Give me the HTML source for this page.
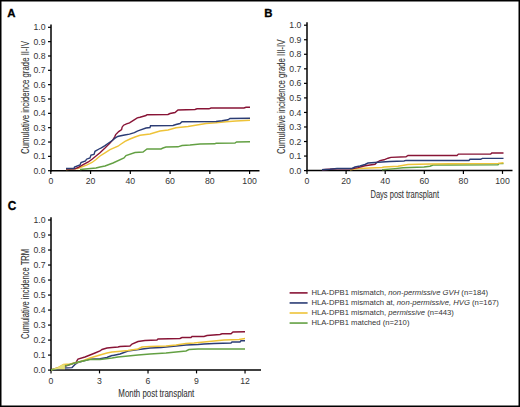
<!DOCTYPE html>
<html><head><meta charset="utf-8"><style>
html,body{margin:0;padding:0;background:#fff;}
#f{position:relative;width:520px;height:407px;overflow:hidden;background:#fff;}
svg{position:absolute;left:0;top:0;font-family:"Liberation Sans", sans-serif;}
</style></head><body><div id="f">
<svg width="520" height="407" viewBox="0 0 520 407">
<rect x="0" y="0" width="520" height="407" fill="#fff"/>
<line x1="51" y1="24.5" x2="51" y2="171.45" stroke="#000" stroke-width="1.5"/>
<line x1="50.25" y1="170.7" x2="259.5" y2="170.7" stroke="#000" stroke-width="1.5"/>
<line x1="48" y1="170.70" x2="51" y2="170.70" stroke="#000" stroke-width="1.2"/>
<text x="45.6" y="173.80" text-anchor="end" font-size="8.7" fill="#343434">0.0</text>
<line x1="48" y1="156.36" x2="51" y2="156.36" stroke="#000" stroke-width="1.2"/>
<text x="45.6" y="159.46" text-anchor="end" font-size="8.7" fill="#343434">0.1</text>
<line x1="48" y1="142.02" x2="51" y2="142.02" stroke="#000" stroke-width="1.2"/>
<text x="45.6" y="145.12" text-anchor="end" font-size="8.7" fill="#343434">0.2</text>
<line x1="48" y1="127.68" x2="51" y2="127.68" stroke="#000" stroke-width="1.2"/>
<text x="45.6" y="130.78" text-anchor="end" font-size="8.7" fill="#343434">0.3</text>
<line x1="48" y1="113.34" x2="51" y2="113.34" stroke="#000" stroke-width="1.2"/>
<text x="45.6" y="116.44" text-anchor="end" font-size="8.7" fill="#343434">0.4</text>
<line x1="48" y1="99.00" x2="51" y2="99.00" stroke="#000" stroke-width="1.2"/>
<text x="45.6" y="102.10" text-anchor="end" font-size="8.7" fill="#343434">0.5</text>
<line x1="48" y1="84.66" x2="51" y2="84.66" stroke="#000" stroke-width="1.2"/>
<text x="45.6" y="87.76" text-anchor="end" font-size="8.7" fill="#343434">0.6</text>
<line x1="48" y1="70.32" x2="51" y2="70.32" stroke="#000" stroke-width="1.2"/>
<text x="45.6" y="73.42" text-anchor="end" font-size="8.7" fill="#343434">0.7</text>
<line x1="48" y1="55.98" x2="51" y2="55.98" stroke="#000" stroke-width="1.2"/>
<text x="45.6" y="59.08" text-anchor="end" font-size="8.7" fill="#343434">0.8</text>
<line x1="48" y1="41.64" x2="51" y2="41.64" stroke="#000" stroke-width="1.2"/>
<text x="45.6" y="44.74" text-anchor="end" font-size="8.7" fill="#343434">0.9</text>
<line x1="48" y1="27.30" x2="51" y2="27.30" stroke="#000" stroke-width="1.2"/>
<text x="45.6" y="30.40" text-anchor="end" font-size="8.7" fill="#343434">1.0</text>
<line x1="50.80" y1="170.7" x2="50.80" y2="174.0" stroke="#000" stroke-width="1.2"/>
<text x="50.80" y="183.7" text-anchor="middle" font-size="8.7" fill="#343434">0</text>
<line x1="90.56" y1="170.7" x2="90.56" y2="174.0" stroke="#000" stroke-width="1.2"/>
<text x="90.56" y="183.7" text-anchor="middle" font-size="8.7" fill="#343434">20</text>
<line x1="130.32" y1="170.7" x2="130.32" y2="174.0" stroke="#000" stroke-width="1.2"/>
<text x="130.32" y="183.7" text-anchor="middle" font-size="8.7" fill="#343434">40</text>
<line x1="170.08" y1="170.7" x2="170.08" y2="174.0" stroke="#000" stroke-width="1.2"/>
<text x="170.08" y="183.7" text-anchor="middle" font-size="8.7" fill="#343434">60</text>
<line x1="209.84" y1="170.7" x2="209.84" y2="174.0" stroke="#000" stroke-width="1.2"/>
<text x="209.84" y="183.7" text-anchor="middle" font-size="8.7" fill="#343434">80</text>
<line x1="249.60" y1="170.7" x2="249.60" y2="174.0" stroke="#000" stroke-width="1.2"/>
<text x="249.60" y="183.7" text-anchor="middle" font-size="8.7" fill="#343434">100</text>
<line x1="307" y1="22.2" x2="307" y2="171.35" stroke="#000" stroke-width="1.5"/>
<line x1="306.25" y1="170.6" x2="512.5" y2="170.6" stroke="#000" stroke-width="1.5"/>
<line x1="304" y1="170.60" x2="307" y2="170.60" stroke="#000" stroke-width="1.2"/>
<text x="301.4" y="173.70" text-anchor="end" font-size="8.7" fill="#343434">0.0</text>
<line x1="304" y1="156.06" x2="307" y2="156.06" stroke="#000" stroke-width="1.2"/>
<text x="301.4" y="159.16" text-anchor="end" font-size="8.7" fill="#343434">0.1</text>
<line x1="304" y1="141.52" x2="307" y2="141.52" stroke="#000" stroke-width="1.2"/>
<text x="301.4" y="144.62" text-anchor="end" font-size="8.7" fill="#343434">0.2</text>
<line x1="304" y1="126.98" x2="307" y2="126.98" stroke="#000" stroke-width="1.2"/>
<text x="301.4" y="130.08" text-anchor="end" font-size="8.7" fill="#343434">0.3</text>
<line x1="304" y1="112.44" x2="307" y2="112.44" stroke="#000" stroke-width="1.2"/>
<text x="301.4" y="115.54" text-anchor="end" font-size="8.7" fill="#343434">0.4</text>
<line x1="304" y1="97.90" x2="307" y2="97.90" stroke="#000" stroke-width="1.2"/>
<text x="301.4" y="101.00" text-anchor="end" font-size="8.7" fill="#343434">0.5</text>
<line x1="304" y1="83.36" x2="307" y2="83.36" stroke="#000" stroke-width="1.2"/>
<text x="301.4" y="86.46" text-anchor="end" font-size="8.7" fill="#343434">0.6</text>
<line x1="304" y1="68.82" x2="307" y2="68.82" stroke="#000" stroke-width="1.2"/>
<text x="301.4" y="71.92" text-anchor="end" font-size="8.7" fill="#343434">0.7</text>
<line x1="304" y1="54.28" x2="307" y2="54.28" stroke="#000" stroke-width="1.2"/>
<text x="301.4" y="57.38" text-anchor="end" font-size="8.7" fill="#343434">0.8</text>
<line x1="304" y1="39.74" x2="307" y2="39.74" stroke="#000" stroke-width="1.2"/>
<text x="301.4" y="42.84" text-anchor="end" font-size="8.7" fill="#343434">0.9</text>
<line x1="304" y1="25.20" x2="307" y2="25.20" stroke="#000" stroke-width="1.2"/>
<text x="301.4" y="28.30" text-anchor="end" font-size="8.7" fill="#343434">1.0</text>
<line x1="307.00" y1="170.6" x2="307.00" y2="173.9" stroke="#000" stroke-width="1.2"/>
<text x="307.00" y="183.7" text-anchor="middle" font-size="8.7" fill="#343434">0</text>
<line x1="346.10" y1="170.6" x2="346.10" y2="173.9" stroke="#000" stroke-width="1.2"/>
<text x="346.10" y="183.7" text-anchor="middle" font-size="8.7" fill="#343434">20</text>
<line x1="385.20" y1="170.6" x2="385.20" y2="173.9" stroke="#000" stroke-width="1.2"/>
<text x="385.20" y="183.7" text-anchor="middle" font-size="8.7" fill="#343434">40</text>
<line x1="424.30" y1="170.6" x2="424.30" y2="173.9" stroke="#000" stroke-width="1.2"/>
<text x="424.30" y="183.7" text-anchor="middle" font-size="8.7" fill="#343434">60</text>
<line x1="463.40" y1="170.6" x2="463.40" y2="173.9" stroke="#000" stroke-width="1.2"/>
<text x="463.40" y="183.7" text-anchor="middle" font-size="8.7" fill="#343434">80</text>
<line x1="502.50" y1="170.6" x2="502.50" y2="173.9" stroke="#000" stroke-width="1.2"/>
<text x="502.50" y="183.7" text-anchor="middle" font-size="8.7" fill="#343434">100</text>
<line x1="51" y1="217.2" x2="51" y2="370.85" stroke="#000" stroke-width="1.5"/>
<line x1="50.25" y1="370.1" x2="261" y2="370.1" stroke="#000" stroke-width="1.5"/>
<line x1="48" y1="370.10" x2="51" y2="370.10" stroke="#000" stroke-width="1.2"/>
<text x="45.6" y="373.20" text-anchor="end" font-size="8.7" fill="#343434">0.0</text>
<line x1="48" y1="355.09" x2="51" y2="355.09" stroke="#000" stroke-width="1.2"/>
<text x="45.6" y="358.19" text-anchor="end" font-size="8.7" fill="#343434">0.1</text>
<line x1="48" y1="340.08" x2="51" y2="340.08" stroke="#000" stroke-width="1.2"/>
<text x="45.6" y="343.18" text-anchor="end" font-size="8.7" fill="#343434">0.2</text>
<line x1="48" y1="325.07" x2="51" y2="325.07" stroke="#000" stroke-width="1.2"/>
<text x="45.6" y="328.17" text-anchor="end" font-size="8.7" fill="#343434">0.3</text>
<line x1="48" y1="310.06" x2="51" y2="310.06" stroke="#000" stroke-width="1.2"/>
<text x="45.6" y="313.16" text-anchor="end" font-size="8.7" fill="#343434">0.4</text>
<line x1="48" y1="295.05" x2="51" y2="295.05" stroke="#000" stroke-width="1.2"/>
<text x="45.6" y="298.15" text-anchor="end" font-size="8.7" fill="#343434">0.5</text>
<line x1="48" y1="280.04" x2="51" y2="280.04" stroke="#000" stroke-width="1.2"/>
<text x="45.6" y="283.14" text-anchor="end" font-size="8.7" fill="#343434">0.6</text>
<line x1="48" y1="265.03" x2="51" y2="265.03" stroke="#000" stroke-width="1.2"/>
<text x="45.6" y="268.13" text-anchor="end" font-size="8.7" fill="#343434">0.7</text>
<line x1="48" y1="250.02" x2="51" y2="250.02" stroke="#000" stroke-width="1.2"/>
<text x="45.6" y="253.12" text-anchor="end" font-size="8.7" fill="#343434">0.8</text>
<line x1="48" y1="235.01" x2="51" y2="235.01" stroke="#000" stroke-width="1.2"/>
<text x="45.6" y="238.11" text-anchor="end" font-size="8.7" fill="#343434">0.9</text>
<line x1="48" y1="220.00" x2="51" y2="220.00" stroke="#000" stroke-width="1.2"/>
<text x="45.6" y="223.10" text-anchor="end" font-size="8.7" fill="#343434">1.0</text>
<line x1="51.00" y1="370.1" x2="51.00" y2="373.40000000000003" stroke="#000" stroke-width="1.2"/>
<text x="51.00" y="383.6" text-anchor="middle" font-size="8.7" fill="#343434">0</text>
<line x1="99.51" y1="370.1" x2="99.51" y2="373.40000000000003" stroke="#000" stroke-width="1.2"/>
<text x="99.51" y="383.6" text-anchor="middle" font-size="8.7" fill="#343434">3</text>
<line x1="148.02" y1="370.1" x2="148.02" y2="373.40000000000003" stroke="#000" stroke-width="1.2"/>
<text x="148.02" y="383.6" text-anchor="middle" font-size="8.7" fill="#343434">6</text>
<line x1="196.53" y1="370.1" x2="196.53" y2="373.40000000000003" stroke="#000" stroke-width="1.2"/>
<text x="196.53" y="383.6" text-anchor="middle" font-size="8.7" fill="#343434">9</text>
<line x1="245.04" y1="370.1" x2="245.04" y2="373.40000000000003" stroke="#000" stroke-width="1.2"/>
<text x="245.04" y="383.6" text-anchor="middle" font-size="8.7" fill="#343434">12</text>
<polyline points="80.0,169.5 96.0,168.0 100.0,167.0 105.0,166.0 113.0,163.0 124.0,158.0 126.0,155.5 135.0,152.5 143.0,152.0 147.0,149.0 161.0,149.0 163.0,148.0 166.0,147.0 178.0,146.8 182.0,145.5 190.0,145.0 200.0,144.0 215.0,143.8 216.0,143.2 235.0,143.0 236.5,142.0 250.0,141.8" fill="none" stroke="#63a043" stroke-width="1.4" stroke-linejoin="miter"/>
<polyline points="66.0,169.5 78.0,168.5 87.0,164.8 92.0,162.5 96.0,159.5 100.0,156.0 105.0,152.8 110.0,149.7 118.0,146.2 120.0,144.8 125.0,141.4 130.0,139.0 135.0,137.0 140.0,135.3 150.0,134.0 160.0,131.0 168.0,130.0 176.0,127.8 188.0,126.5 200.0,124.5 206.0,123.5 216.0,122.8 226.0,121.8 236.0,121.0 250.0,120.2" fill="none" stroke="#eec338" stroke-width="1.4" stroke-linejoin="miter"/>
<polyline points="66.0,169.0 75.0,168.8 78.0,167.5 82.7,164.8 88.3,162.0 92.0,159.2 96.0,156.0 100.0,152.7 105.0,148.0 110.0,143.0 113.0,139.6 114.7,136.8 115.7,134.6 118.7,131.6 121.6,129.7 122.1,127.2 123.6,125.2 126.5,123.8 129.5,122.8 133.4,120.3 137.3,117.9 140.0,117.2 146.0,115.5 147.0,114.8 168.0,114.5 170.0,113.5 175.0,112.5 178.0,110.0 195.0,109.5 197.0,108.8 209.0,108.8 211.0,108.0 244.0,108.0 246.0,107.3 250.0,107.3" fill="none" stroke="#881436" stroke-width="1.4" stroke-linejoin="miter"/>
<polyline points="66.0,168.5 74.0,168.5 74.5,167.0 80.0,165.0 81.0,162.5 85.5,161.0 86.5,159.2 90.0,158.0 91.0,155.0 94.0,154.5 95.0,151.3 99.0,149.0 101.3,147.8 105.0,145.6 108.6,143.0 112.3,140.5 114.7,138.4 117.7,136.5 119.7,136.0 124.6,135.0 129.5,134.1 134.4,132.6 137.3,131.1 140.0,130.1 146.0,128.0 150.0,127.5 150.5,125.8 173.0,125.5 176.0,124.5 180.0,123.5 182.0,121.8 216.0,121.5 222.0,120.8 228.0,119.8 230.0,118.5 250.0,118.2" fill="none" stroke="#2b3c74" stroke-width="1.4" stroke-linejoin="miter"/>
<polyline points="382.0,169.8 395.0,168.6 403.0,167.7 424.0,167.0 430.0,166.2 433.0,165.0 450.0,165.0 498.0,164.8 499.0,163.6 503.5,163.6" fill="none" stroke="#63a043" stroke-width="1.4" stroke-linejoin="miter"/>
<polyline points="350.0,169.8 358.0,168.5 370.0,168.0 382.0,167.5 384.0,167.0 398.0,166.2 408.0,164.5 430.0,164.0 450.0,163.8 498.0,163.4 503.5,162.8" fill="none" stroke="#eec338" stroke-width="1.4" stroke-linejoin="miter"/>
<polyline points="322.0,169.8 337.0,168.8 352.0,168.8 358.0,167.6 365.0,165.8 370.0,165.0 375.0,164.3 377.0,162.2 380.0,160.6 384.0,159.8 388.0,158.2 391.0,157.4 406.0,156.8 408.0,155.4 457.0,155.5 458.4,154.1 490.7,154.1 491.8,153.0 503.5,153.0" fill="none" stroke="#881436" stroke-width="1.4" stroke-linejoin="miter"/>
<polyline points="322.0,169.8 330.0,169.2 337.0,168.5 352.0,168.5 355.0,167.0 360.0,166.0 365.0,164.5 368.0,163.0 375.0,162.5 382.0,162.0 390.0,161.5 404.0,161.0 406.0,160.4 469.0,160.5 470.0,159.3 480.7,159.3 482.3,158.4 503.5,158.4" fill="none" stroke="#2b3c74" stroke-width="1.4" stroke-linejoin="miter"/>
<polyline points="51.0,370.0 56.0,368.5 64.0,366.5 70.0,364.5 76.0,362.5 77.0,360.5 78.0,359.0 85.0,357.0 90.0,355.0 95.0,353.0 100.0,351.0 102.0,349.5 107.0,348.0 112.0,347.5 118.0,347.0 120.0,346.5 130.0,346.0 132.0,344.0 138.0,341.5 145.0,340.5 157.0,340.0 158.0,339.0 180.0,338.5 182.0,337.5 191.0,337.5 192.0,336.5 204.0,336.5 207.0,335.5 220.0,334.5 222.0,333.8 231.0,333.8 233.0,332.0 245.0,331.8" fill="none" stroke="#881436" stroke-width="1.4" stroke-linejoin="miter"/>
<polyline points="51.0,370.0 60.0,368.8 64.0,368.0 72.0,367.6 75.0,364.5 78.0,362.5 90.0,359.2 100.0,358.7 107.0,357.5 108.0,357.0 112.0,355.5 113.0,355.5 120.0,354.0 128.0,351.0 135.0,350.0 150.0,348.0 161.0,347.5 176.0,346.0 186.0,345.0 198.0,344.5 204.0,344.0 214.0,343.5 231.0,343.0 232.0,342.0 240.0,342.0 241.0,340.8 245.0,340.8" fill="none" stroke="#2b3c74" stroke-width="1.4" stroke-linejoin="miter"/>
<polyline points="51.0,370.0 58.0,367.6 63.5,364.5 70.0,364.0 78.0,362.3 85.0,360.0 90.0,358.0 100.0,355.0 107.0,353.0 112.0,352.0 118.0,351.5 128.0,350.5 138.0,349.0 142.0,347.0 150.0,346.5 166.0,346.0 176.0,345.0 186.0,343.5 194.0,343.0 214.0,341.0 224.0,340.0 239.0,339.5 245.0,338.5" fill="none" stroke="#eec338" stroke-width="1.4" stroke-linejoin="miter"/>
<polyline points="51.0,370.0 56.0,368.8 64.0,366.3 78.0,362.0 90.0,359.5 100.0,359.5 112.0,358.0 118.0,357.0 128.0,356.0 138.0,355.0 150.0,354.0 166.0,353.0 176.0,352.0 186.0,351.0 189.0,349.5 198.0,349.0 245.0,349.0" fill="none" stroke="#63a043" stroke-width="1.4" stroke-linejoin="miter"/>
<polygon points="51.8,369.3 58,367.2 63,364.2 64.8,364.6 65,369.3" fill="#e6e07a"/>
<text transform="translate(7.2,16.8) scale(1,1)" font-size="11.4" font-weight="bold" fill="#000" stroke="#000" stroke-width="0.3">A</text>
<text transform="translate(264.3,16.9) scale(1,1)" font-size="11.4" font-weight="bold" fill="#000" stroke="#000" stroke-width="0.3">B</text>
<text transform="translate(7.7,209.8) scale(0.93,1)" font-size="12.8" font-weight="bold" fill="#000" stroke="#000" stroke-width="0.3">C</text>
<text transform="translate(28.6,97.5) rotate(-90)" text-anchor="middle" font-size="10.2" fill="#333" stroke="#333" stroke-width="0.08" textLength="113" lengthAdjust="spacingAndGlyphs">Cumulative incidence grade II-IV</text>
<text transform="translate(284.6,96.8) rotate(-90)" text-anchor="middle" font-size="10.2" fill="#333" stroke="#333" stroke-width="0.08" textLength="114.4" lengthAdjust="spacingAndGlyphs">Cumulative incidence grade III-IV</text>
<text transform="translate(28.6,294) rotate(-90)" text-anchor="middle" font-size="10.2" fill="#333" stroke="#333" stroke-width="0.08" textLength="90" lengthAdjust="spacingAndGlyphs">Cumulative incidence TRM</text>
<text x="370.5" y="198" font-size="10" fill="#333" stroke="#333" stroke-width="0.08" textLength="68.5" lengthAdjust="spacingAndGlyphs">Days post transplant</text>
<text x="118.3" y="397" font-size="10" fill="#333" stroke="#333" stroke-width="0.08" textLength="76" lengthAdjust="spacingAndGlyphs">Month post transplant</text>
<line x1="289.6" y1="292.9" x2="307.6" y2="292.9" stroke="#881436" stroke-width="1.6"/>
<text x="311.4" y="295.2" font-size="7.7" fill="#343434">HLA-DPB1 mismatch, <tspan font-style="italic">non-permissive GVH</tspan> (n=184)</text>
<line x1="289.6" y1="302.95" x2="307.6" y2="302.95" stroke="#2b3c74" stroke-width="1.6"/>
<text x="311.4" y="305.2" font-size="7.7" fill="#343434">HLA-DPB1 mismatch at, <tspan font-style="italic">non-permissive, HVG</tspan> (n=167)</text>
<line x1="289.6" y1="313.0" x2="307.6" y2="313.0" stroke="#eec338" stroke-width="1.6"/>
<text x="311.4" y="315.3" font-size="7.7" fill="#343434">HLA-DPB1 mismatch, <tspan font-style="italic">permissive</tspan> (n=443)</text>
<line x1="289.6" y1="323.04999999999995" x2="307.6" y2="323.04999999999995" stroke="#63a043" stroke-width="1.6"/>
<text x="311.4" y="325.3" font-size="7.7" fill="#343434">HLA-DPB1 matched (n=210)</text>
<rect x="0.75" y="0.75" width="518.5" height="405.5" fill="none" stroke="#000" stroke-width="1.5"/>
</svg></div></body></html>
